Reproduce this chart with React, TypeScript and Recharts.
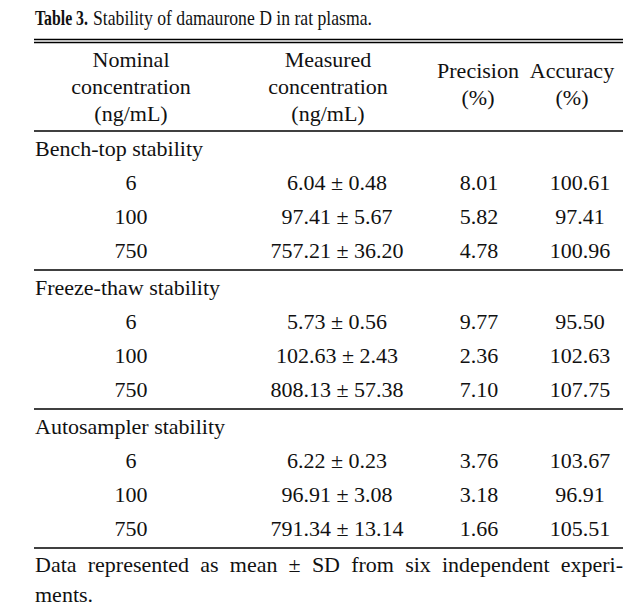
import React from "react";
import { ScatterChart, Scatter, XAxis, YAxis, ReferenceLine } from "recharts";

document.body.style.margin = "0";

const titleBold = "Table 3.";
const titleRest = "Stability of damaurone D in rat plasma.";

const headers = [
  ["Nominal", "concentration", "(ng/mL)"],
  ["Measured", "concentration", "(ng/mL)"],
  ["Precision", "(%)"],
  ["Accuracy", "(%)"],
];

const groups = ["Bench-top stability", "Freeze-thaw stability", "Autosampler stability"];
const nominal = [6, 100, 750];
const measuredMean = [
  [6.04, 97.41, 757.21],
  [5.73, 102.63, 808.13],
  [6.22, 96.91, 791.34],
];
const measuredSd = [
  [0.48, 5.67, 36.2],
  [0.56, 2.43, 57.38],
  [0.23, 3.08, 13.14],
];
const precision = [
  [8.01, 5.82, 4.78],
  [9.77, 2.36, 7.1],
  [3.76, 3.18, 1.66],
];
const accuracy = [
  [100.61, 97.41, 100.96],
  [95.5, 102.63, 107.75],
  [103.67, 96.91, 105.51],
];

const footLine1 = "Data represented as mean \u00b1 SD from six independent experi-";
const footLine2 = "ments.";

const W = 644;
const H = 616;
const FONT = '"Liberation Serif", "Times New Roman", serif';
const FS = 22;
const LEFT = 34;
const RIGHT = 623;
const headCenters = [131, 328, 478, 572];
const cellCenters = [131, 337, 479, 580];
const sectionTop = 131;
const sectionH = 139;
const rowH = 34;

type Cell = {
  x: number;
  y: number;
  label: string;
  anchor?: "start" | "middle" | "end";
  bold?: boolean;
  len?: number;
  justify?: number;
};

const cells: Cell[] = [];
// title is a condensed face in the reference: squeeze each part to its width
cells.push({ x: 35, y: 25, label: titleBold, anchor: "start", bold: true, len: 53 });
cells.push({ x: 93, y: 25, label: titleRest, anchor: "start", len: 279 });

headers.forEach((lines, c) => {
  const base = lines.length === 3 ? 67 : 78;
  lines.forEach((t, i) => cells.push({ x: headCenters[c], y: base + i * 27, label: t }));
});

groups.forEach((g, s) => {
  const top = sectionTop + s * sectionH;
  cells.push({ x: 35, y: top + 25, label: g, anchor: "start" });
  nominal.forEach((n, r) => {
    const y = top + 59 + r * rowH;
    cells.push({ x: cellCenters[0], y, label: String(n) });
    cells.push({
      x: cellCenters[1],
      y,
      label: `${measuredMean[s][r].toFixed(2)} \u00b1 ${measuredSd[s][r].toFixed(2)}`,
    });
    cells.push({ x: cellCenters[2], y, label: precision[s][r].toFixed(2) });
    cells.push({ x: cellCenters[3], y, label: accuracy[s][r].toFixed(2) });
  });
});

cells.push({ x: 35, y: 572, label: footLine1, anchor: "start", justify: RIGHT - 35 });
cells.push({ x: 35, y: 602, label: footLine2, anchor: "start" });

const rules = [39.5, 42.5, sectionTop, sectionTop + sectionH, sectionTop + 2 * sectionH, sectionTop + 3 * sectionH];

let measureCtx: CanvasRenderingContext2D | null = null;
function textWidth(text: string, bold?: boolean) {
  if (!measureCtx) measureCtx = document.createElement("canvas").getContext("2d");
  if (!measureCtx) return 0;
  measureCtx.font = `${bold ? "bold " : ""}${FS}px "Liberation Serif"`;
  return measureCtx.measureText(text).width;
}

const TextCell = (props: any) => {
  const { cx, cy, payload } = props;
  const p = payload as Cell;
  const extra: any = {};
  let sx = 1;
  if (p.len) {
    const w = textWidth(p.label, p.bold);
    if (w > 0) sx = p.len / w;
  }
  if (p.justify) {
    const spaces = p.label.split(" ").length - 1;
    extra.wordSpacing = spaces > 0 ? (p.justify - textWidth(p.label)) / spaces : 0;
  }
  return (
    <text
      x={0}
      y={0}
      transform={`translate(${cx} ${cy}) scale(${sx} 1)`}
      textAnchor={p.anchor || "middle"}
      fontFamily={FONT}
      fontSize={FS}
      fontWeight={p.bold ? 700 : 400}
      fill="#111"
      {...extra}
    >
      {p.label}
    </text>
  );
};

export default function App() {
  return (
    <div style={{ width: W, height: H, background: "#fff" }}>
      <ScatterChart width={W} height={H} margin={{ top: 0, right: 0, bottom: 0, left: 0 }}>
        <XAxis type="number" dataKey="x" domain={[0, W]} hide />
        <YAxis type="number" dataKey="y" domain={[0, H]} reversed hide />
        {rules.map((y, i) => (
          <ReferenceLine
            key={i}
            segment={[
              { x: LEFT, y },
              { x: RIGHT, y },
            ]}
            stroke="#000"
            strokeWidth={1.3}
            ifOverflow="visible"
          />
        ))}
        <Scatter data={cells} shape={TextCell} isAnimationActive={false} />
      </ScatterChart>
    </div>
  );
}
